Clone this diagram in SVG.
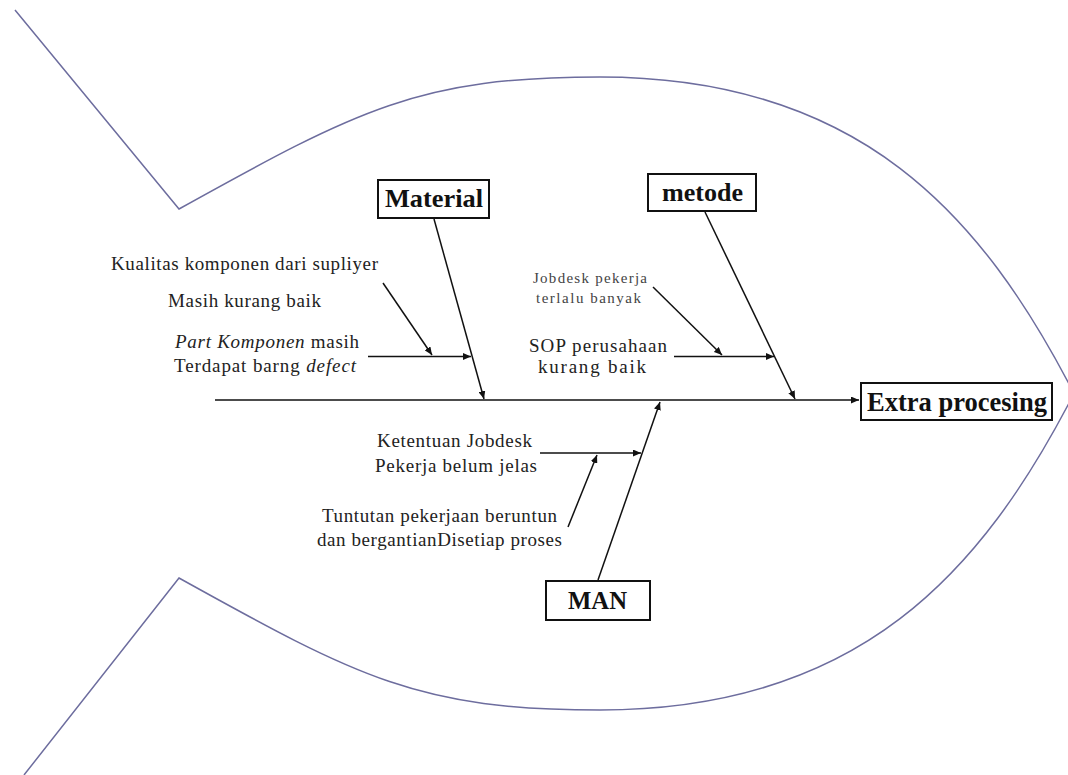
<svg xmlns="http://www.w3.org/2000/svg" width="1068" height="775" viewBox="0 0 1068 775">
<style>
.fish{fill:none;stroke:#6d6d9e;stroke-width:1.5}
.box{fill:#fff;stroke:#111;stroke-width:2}
.hd{font-family:"Liberation Serif","Times New Roman",serif;font-weight:bold;fill:#111}
.tx{font-family:"Liberation Serif","Times New Roman",serif;font-size:19px;fill:#222}
.sm{font-family:"Liberation Serif","Times New Roman",serif;font-size:15px;fill:#444}
.ln{fill:none;stroke:#111;stroke-width:1.5}
</style>
<defs>
<marker id="ah" markerUnits="userSpaceOnUse" markerWidth="9" markerHeight="7" refX="8" refY="3.5" orient="auto">
<path d="M0,0 L8,3.5 L0,7 z" fill="#111"/>
</marker>
</defs>
<rect width="1068" height="775" fill="#fff"/>
<g id="fish-outline">
<path class="fish" d="M15,10 L179,209 C359,109 420,77 600,77 C860,77 982,215 1074,393.5"/>
<path class="fish" d="M24,775 L179,578 C359,678 420,710 600,710 C860,710 982,572 1074,393.5"/>
</g>
<g id="connectors">
<line class="ln" x1="215" y1="400" x2="859" y2="400" marker-end="url(#ah)"/>
<line class="ln" x1="434" y1="219" x2="484" y2="399" marker-end="url(#ah)"/>
<line class="ln" x1="368" y1="356.5" x2="471" y2="356.5" marker-end="url(#ah)"/>
<line class="ln" x1="383" y1="283" x2="432" y2="355" marker-end="url(#ah)"/>
<line class="ln" x1="705" y1="212" x2="795" y2="399" marker-end="url(#ah)"/>
<line class="ln" x1="674" y1="356.5" x2="774" y2="356.5" marker-end="url(#ah)"/>
<line class="ln" x1="653" y1="287" x2="722" y2="355" marker-end="url(#ah)"/>
<line class="ln" x1="598" y1="580" x2="660" y2="402" marker-end="url(#ah)"/>
<line class="ln" x1="540" y1="453" x2="641" y2="453" marker-end="url(#ah)"/>
<line class="ln" x1="568" y1="527" x2="597" y2="455" marker-end="url(#ah)"/>
</g>
<g id="effect">
<rect class="box" x="861" y="383" width="191" height="37"/>
<text class="hd" x="867" y="411" font-size="27" textLength="180" lengthAdjust="spacingAndGlyphs">Extra procesing</text>
</g>
<g id="material">
<rect class="box" x="378" y="180" width="111" height="38"/>
<text class="hd" x="385" y="207" font-size="25" textLength="98" lengthAdjust="spacingAndGlyphs">Material</text>
</g>
<g id="metode">
<rect class="box" x="648" y="174" width="108" height="37"/>
<text class="hd" x="662" y="201" font-size="25" textLength="81" lengthAdjust="spacingAndGlyphs">metode</text>
</g>
<g id="man">
<rect class="box" x="546" y="581" width="104" height="39"/>
<text class="hd" x="568" y="609" font-size="25" textLength="59" lengthAdjust="spacingAndGlyphs">MAN</text>
</g>
<g id="material-causes">
<text class="tx" x="111" y="270" textLength="267" fill="#333">Kualitas komponen dari supliyer</text>
<text class="tx" x="168" y="307" textLength="153" fill="#333">Masih kurang baik</text>
<text class="tx" x="175" y="348" textLength="184"><tspan font-style="italic">Part Komponen</tspan> masih</text>
<text class="tx" x="174" y="372" textLength="182">Terdapat barng <tspan font-style="italic">defect</tspan></text>
</g>
<g id="metode-causes">
<text class="sm" x="533" y="283" textLength="114">Jobdesk pekerja</text>
<text class="sm" x="536" y="303" textLength="105">terlalu banyak</text>
<text class="tx" x="529" y="352" textLength="138">SOP perusahaan</text>
<text class="tx" x="538" y="373" textLength="108">kurang baik</text>
</g>
<g id="man-causes">
<text class="tx" x="377" y="447" textLength="155">Ketentuan Jobdesk</text>
<text class="tx" x="375" y="472" textLength="162">Pekerja belum jelas</text>
<text class="tx" x="322" y="522" textLength="235">Tuntutan pekerjaan beruntun</text>
<text class="tx" x="317" y="546" textLength="245">dan bergantianDisetiap proses</text>
</g>
</svg>
